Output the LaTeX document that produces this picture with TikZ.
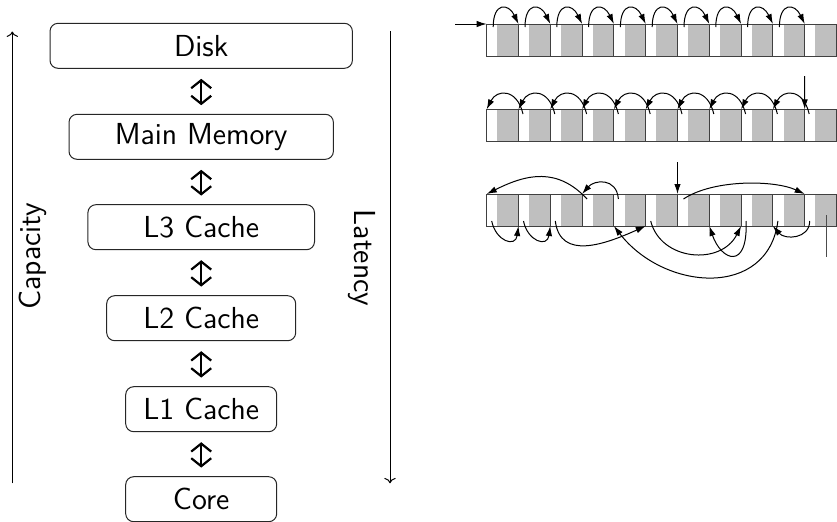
\documentclass[tikz,border=0pt]{standalone}
\usetikzlibrary{arrows.meta}
\begin{document}
\begin{tikzpicture}[x=0.5pt,y=-0.5pt,
  font=\fontsize{15.2}{18}\selectfont\sffamily,
  level/.style={draw=black!85, line width=0.5pt, rounded corners=4pt, minimum height=22.5pt, inner sep=0pt},
  link/.style={line width=1.1pt, {Straight Barb[length=4pt,width=10pt]}-{Straight Barb[length=4pt,width=10pt]}, shorten <=5pt, shorten >=4.3pt},
  axis/.style={line width=0.5pt},
  cellbox/.style={draw=black!75, line width=0.5pt, minimum width=15.9pt, minimum height=16pt, inner sep=0pt, outer sep=0pt,
    path picture={\fill[black!25] ([xshift=5.35pt]path picture bounding box.north west) rectangle (path picture bounding box.south east);}},
  ptr/.style={line width=0.5pt, -{Latex[length=5pt,width=3.2pt]}},
]
\useasboundingbox (0,0) rectangle (837,521);

% memory hierarchy
\node[level, minimum width=151.2pt] (disk) at (201.2,45.8) {Disk};
\node[level, minimum width=132.2pt] (mem) at (201.2,136.8) {Main Memory};
\node[level, minimum width=113.3pt] (l3) at (201.2,227.2) {L3 Cache};
\node[level, minimum width=94.5pt] (l2) at (201.2,318.2) {L2 Cache};
\node[level, minimum width=75.5pt] (l1) at (201.2,409.2) {L1 Cache};
\node[level, minimum width=75.5pt] (core) at (201.2,499.2) {Core};
\draw[link] (disk) -- (mem);
\draw[link] (mem) -- (l3);
\draw[link] (l3) -- (l2);
\draw[link] (l2) -- (l1);
\draw[link] (l1) -- (core);

\coordinate (capTop) at (12.3,31.5);
\coordinate (capBot) at (12.3,483.3);
\draw[axis,->] (capBot) -- (capTop);
\node[rotate=90] (cap) at (33.3,256) {Capacity};
\coordinate (latTop) at (390,31);
\coordinate (latBot) at (390,483.3);
\draw[axis,->] (latTop) -- (latBot);
\node[rotate=-90] (lat) at (362,258) {Latency};

% arrays
\foreach \r/\t in {1/24,2/109.3,3/194}{
  \foreach \k in {0,...,10}{
    \node[cellbox] (c\r-\k) at ({502.6+31.8*\k},{\t+16}) {};
  }
}

% row 1: forward traversal
\coordinate (in1) at (455,24);
\draw[ptr] (in1) -- (c1-0.north west);
\foreach \k in {0,...,9}{
  \pgfmathtruncatemacro\n{\k+1}
  \draw[ptr] ([xshift=3.25pt,yshift=-1.5pt]c1-\k.north west) .. controls +(0,-25) and +(-10,-21) .. (c1-\n.north west);
}

% row 2: backward traversal
\coordinate (in2) at (804.7,76);
\draw[ptr] (in2) -- (c2-10.north west);
\foreach \k in {1,...,10}{
  \pgfmathtruncatemacro\p{\k-1}
  \draw[ptr] ([xshift=2.25pt,yshift=-2.35pt]c2-\k.north west) .. controls +(-6,-26) and +(10,-20) .. (c2-\p.north west);
}

% row 3: random traversal
\coordinate (in3) at (677.5,162);
\draw[ptr] (in3) -- (c3-6.north west);
\draw[ptr] ([xshift=3pt,yshift=-2.5pt]c3-6.north west) .. controls +(30,-20) and +(-30,-14) .. (c3-10.north west);
\draw[ptr] ([xshift=2.5pt,yshift=2.5pt]c3-10.south west) .. controls +(0,18) and +(12,14) .. (c3-9.south west);
\draw[ptr] ([xshift=2.5pt,yshift=2.5pt]c3-9.south west) .. controls +(-10,78) and +(50,65) .. (c3-4.south west);
\draw[ptr] ([xshift=2.25pt,yshift=-2.5pt]c3-4.north west) .. controls +(-2,-22) and +(12,-14) .. (c3-3.north west);
\draw[ptr] ([xshift=2.5pt,yshift=-2.5pt]c3-3.north west) .. controls +(-30,-32) and +(40,-20) .. (c3-0.north west);
\draw[ptr] ([xshift=2.5pt,yshift=2.5pt]c3-0.south west) .. controls +(4,20) and +(-3,22) .. (c3-1.south west);
\draw[ptr] ([xshift=2.5pt,yshift=2.5pt]c3-1.south west) .. controls +(4,20) and +(-3,22) .. (c3-2.south west);
\draw[ptr] ([xshift=2.5pt,yshift=2.5pt]c3-2.south west) .. controls +(5,40) and +(-40,18) .. (c3-5.south west);
\draw[ptr] ([xshift=2.5pt,yshift=2.5pt]c3-5.south west) .. controls +(10,40) and +(-20,40) .. (c3-8.south west);
\draw[ptr] ([xshift=2.5pt,yshift=2.5pt]c3-8.south west) .. controls +(2,50) and +(12,35) .. (c3-7.south west);
\coordinate (end1) at (826,215);
\coordinate (end2) at (826,257);
\draw[line width=0.5pt, black!70] (end1) -- (end2);
\end{tikzpicture}
\end{document}
